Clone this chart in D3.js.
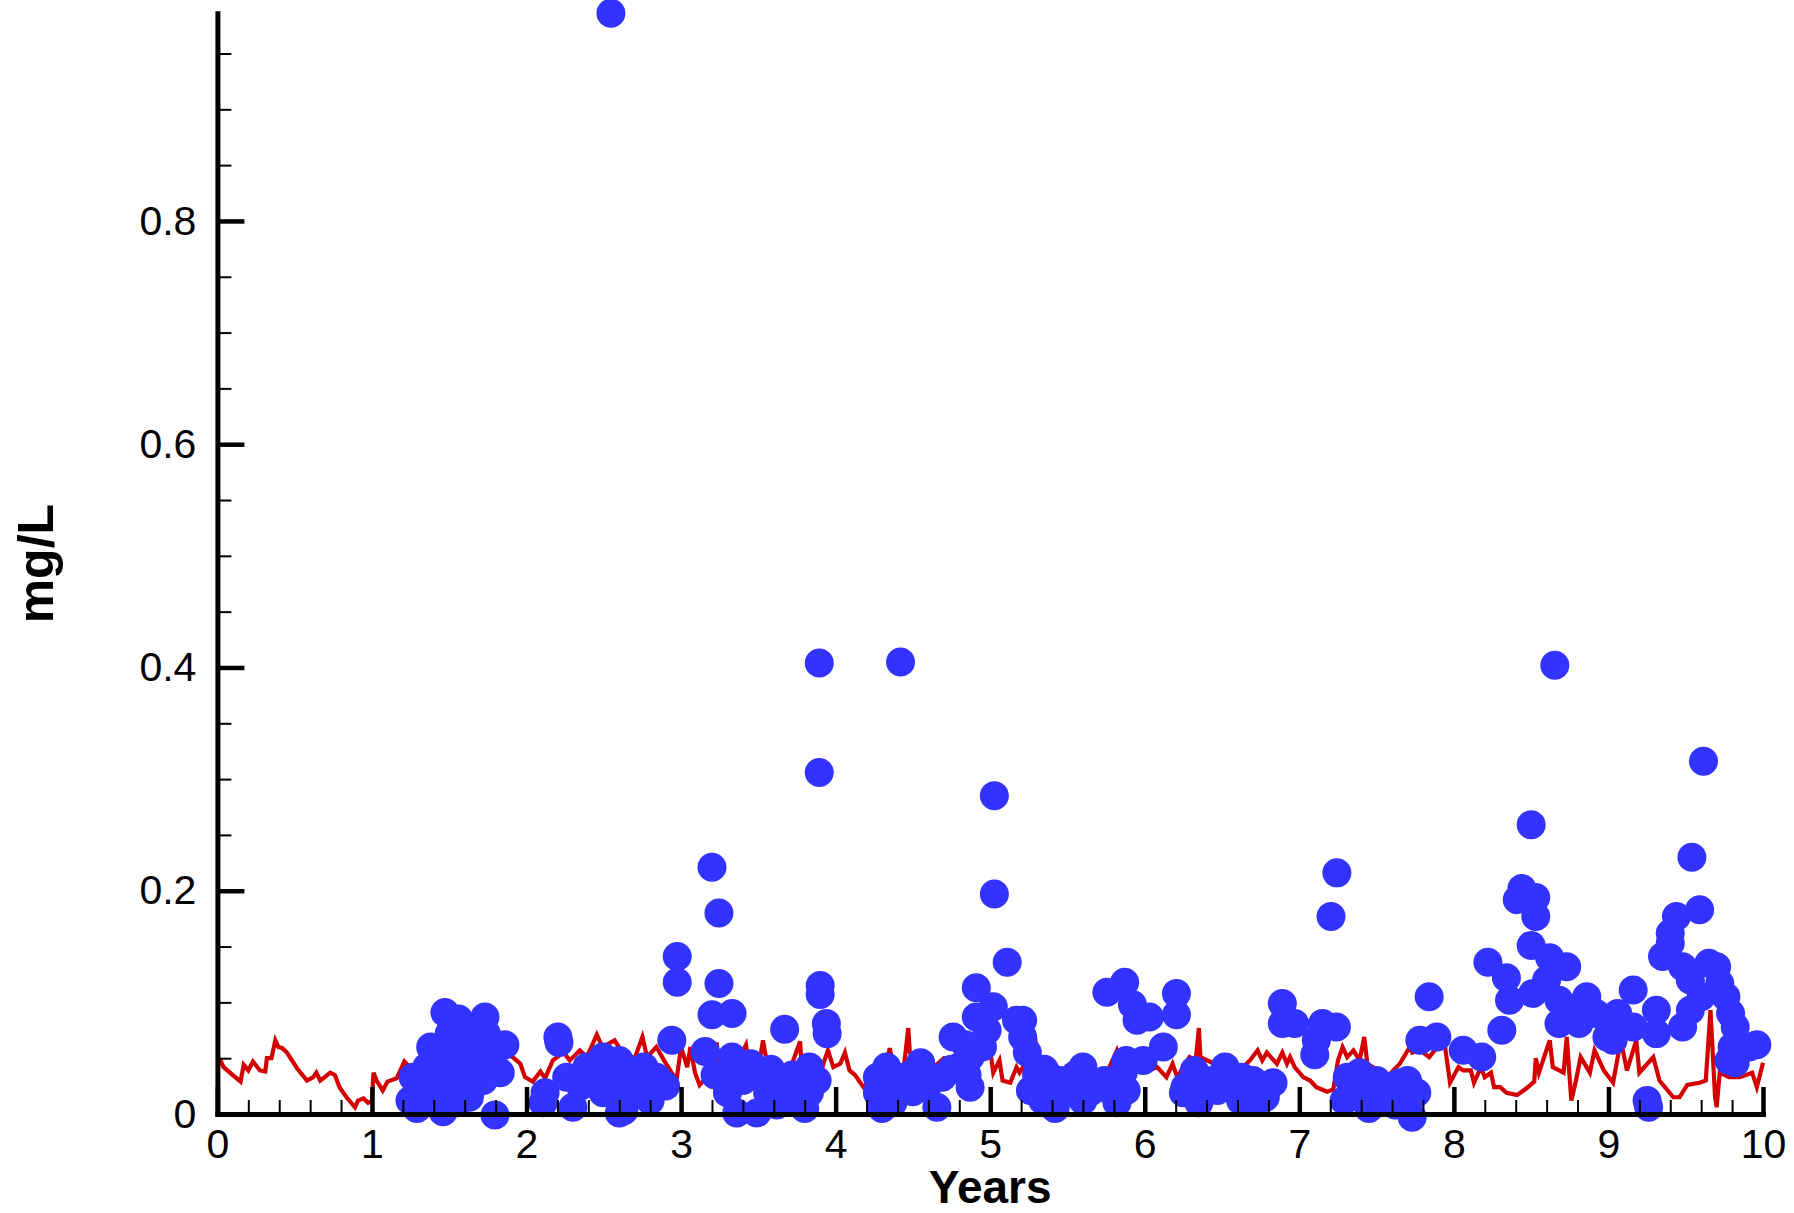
<!DOCTYPE html>
<html>
<head>
<meta charset="utf-8">
<script src="https://cdn.jsdelivr.net/npm/d3@7"></script>
<style>
  html, body { margin: 0; padding: 0; background: #fff; }
  svg { display: block; }
  text { font-family: "Liberation Sans", Arial, Helvetica, sans-serif; fill: #000; }
</style>
</head>
<body>
<svg id="chart" width="1794" height="1213"></svg>
<script>
// ---------------- DATA ----------------
const xMajorTicks = [0, 1, 2, 3, 4, 5, 6, 7, 8, 9, 10];
const yMajorTicks = [0, 0.2, 0.4, 0.6, 0.8];
const yTickLabels = ["0", "0.2", "0.4", "0.6", "0.8"];
const xTickLabels = ["0", "1", "2", "3", "4", "5", "6", "7", "8", "9", "10"];
const xTitle = "Years";
const yTitle = "mg/L";

// simulated concentration (red line)
const simYears = [0.00,0.02,0.04,0.09,0.15,0.17,0.20,0.23,0.275,0.31,0.32,0.35,0.375,0.395,0.42,0.45,0.515,0.58,0.62,0.64,0.665,0.695,0.73,0.76,0.79,0.835,0.89,0.91,0.945,0.975,1.00,1.01,1.03,1.07,1.10,1.16,1.21,1.245,1.29,1.36,1.39,1.43,1.50,1.56,1.62,1.70,1.78,1.85,1.91,1.96,1.99,2.04,2.09,2.12,2.17,2.24,2.28,2.345,2.39,2.455,2.49,2.57,2.62,2.70,2.75,2.78,2.84,2.89,2.97,3.00,3.04,3.06,3.09,3.12,3.14,3.20,3.23,3.25,3.30,3.36,3.42,3.445,3.50,3.53,3.56,3.65,3.70,3.77,3.78,3.84,3.90,3.92,3.95,3.985,4.03,4.06,4.09,4.125,4.18,4.25,4.32,4.35,4.37,4.44,4.47,4.48,4.55,4.62,4.70,4.78,4.85,4.92,5.00,5.02,5.06,5.08,5.13,5.17,5.19,5.25,5.29,5.31,5.40,5.48,5.55,5.65,5.755,5.82,5.85,5.92,6.03,6.08,6.14,6.18,6.21,6.29,6.33,6.35,6.36,6.45,6.55,6.62,6.68,6.73,6.76,6.79,6.855,6.89,6.92,6.94,6.97,7.025,7.07,7.11,7.18,7.22,7.25,7.28,7.31,7.35,7.39,7.42,7.44,7.50,7.58,7.65,7.715,7.73,7.78,7.84,7.91,7.93,7.975,8.03,8.06,8.11,8.13,8.175,8.20,8.24,8.26,8.30,8.34,8.41,8.47,8.52,8.53,8.55,8.62,8.64,8.71,8.73,8.76,8.79,8.82,8.88,8.91,8.97,9.03,9.08,9.12,9.18,9.20,9.29,9.33,9.42,9.46,9.51,9.59,9.63,9.66,9.69,9.70,9.72,9.78,9.85,9.93,9.96,10.0];
const simValues = [0.050,0.048,0.042,0.036,0.029,0.044,0.039,0.047,0.039,0.038,0.050,0.050,0.066,0.060,0.059,0.055,0.041,0.030,0.033,0.037,0.030,0.033,0.037,0.035,0.024,0.015,0.006,0.012,0.014,0.010,0.012,0.037,0.030,0.021,0.029,0.032,0.047,0.042,0.039,0.065,0.060,0.050,0.055,0.045,0.058,0.050,0.062,0.055,0.051,0.045,0.033,0.029,0.038,0.032,0.048,0.055,0.048,0.057,0.051,0.071,0.060,0.066,0.055,0.050,0.069,0.051,0.060,0.048,0.030,0.060,0.042,0.060,0.037,0.026,0.029,0.030,0.064,0.042,0.035,0.045,0.062,0.037,0.040,0.066,0.042,0.040,0.038,0.065,0.042,0.036,0.033,0.045,0.057,0.042,0.045,0.055,0.039,0.035,0.024,0.030,0.040,0.059,0.045,0.040,0.077,0.055,0.045,0.040,0.050,0.045,0.055,0.045,0.057,0.037,0.048,0.030,0.028,0.042,0.037,0.050,0.069,0.045,0.035,0.040,0.030,0.035,0.037,0.057,0.045,0.040,0.039,0.042,0.033,0.045,0.033,0.051,0.048,0.077,0.051,0.045,0.048,0.040,0.048,0.057,0.048,0.055,0.045,0.055,0.045,0.051,0.042,0.033,0.030,0.024,0.020,0.022,0.048,0.060,0.051,0.057,0.048,0.069,0.045,0.040,0.035,0.045,0.060,0.055,0.057,0.051,0.063,0.073,0.028,0.042,0.039,0.039,0.028,0.042,0.033,0.037,0.024,0.024,0.019,0.017,0.023,0.029,0.050,0.037,0.066,0.042,0.037,0.069,0.012,0.030,0.051,0.037,0.057,0.039,0.028,0.066,0.039,0.066,0.037,0.051,0.030,0.015,0.015,0.026,0.028,0.030,0.093,0.015,0.006,0.037,0.033,0.033,0.037,0.024,0.046];

// observed concentrations (blue dots)
const obsYears = [2.546,3.894,3.894,4.420,8.653,9.615,5.027,5.027,5.11,3.20,3.245,2.975,2.975,3.245,7.243,7.205,8.50,9.54,9.59,
  1.472,1.731,1.86,1.796,1.266,1.246,1.29,1.46,1.83,1.50,1.61,1.74,1.68,1.44,1.55,1.65,1.355,1.46,1.63,1.33,1.52,1.58,1.40,
  1.38,1.56,1.70,1.78,1.52,1.60,1.72,1.36,1.55,
  2.203,2.21,2.495,2.107,2.12,2.26,2.30,2.39,2.585,2.60,2.495,2.35,2.45,2.55,2.60,2.67,2.84,2.63,2.80,2.76,2.70,2.90,2.94,2.53,
  3.20,3.33,3.155,3.67,3.90,3.90,3.94,3.945,3.33,3.27,3.36,3.49,3.56,3.75,3.83,3.66,3.30,3.49,3.83,3.40,3.60,3.70,3.22,3.88,
  3.45,3.58,3.72,3.62,3.80,
  4.27,4.33,4.27,4.37,4.55,4.655,4.76,4.87,4.87,4.59,4.69,4.44,4.80,4.50,4.62,4.40,4.91,4.91,5.02,5.17,4.98,4.95,4.84,
  4.30,4.48,4.75,4.85,
  5.21,5.21,5.24,5.26,5.39,5.60,5.69,5.50,5.34,5.795,5.60,5.88,5.45,5.755,5.87,5.92,6.205,6.205,6.03,5.95,6.12,5.99,5.88,5.86,5.30,5.74,
  5.42,5.55,5.65,5.35,5.82,
  6.26,6.32,6.52,6.63,6.83,6.47,6.73,6.62,6.25,6.40,
  6.35,6.55,6.70,6.78,
  6.89,6.89,6.97,7.15,7.24,7.10,7.11,
  7.31,7.39,7.29,7.50,7.715,7.73,7.78,7.84,7.60,7.41,7.55,7.65,7.76,7.35,
  7.45,7.62,7.70,7.52,
  8.44,8.53,8.41,8.53,9.44,9.40,9.40,9.35,8.50,8.22,8.62,8.73,8.34,8.36,8.51,8.60,8.68,8.86,8.92,8.68,8.81,8.99,9.03,9.16,9.16,9.31,9.31,9.65,9.70,9.48,9.48,9.72,9.76,9.79,9.82,9.91,9.78,9.82,9.80,9.53,9.53,7.89,8.06,8.18,8.31,9.25,9.26,9.06,8.75,9.60,9.96];
const obsValues = [0.986,0.404,0.306,0.405,0.402,0.316,0.285,0.197,0.136,0.221,0.180,0.141,0.118,0.117,0.216,0.177,0.259,0.230,0.183,
  0.091,0.087,0.062,-0.001,0.033,0.012,0.005,0.002,0.037,0.072,0.078,0.072,0.048,0.048,0.033,0.024,0.042,0.024,0.015,0.019,0.060,0.055,0.035,
  0.060,0.085,0.060,0.050,0.040,0.035,0.030,0.010,0.010,
  0.069,0.064,0.051,0.010,0.019,0.033,0.006,0.042,0.042,0.001,0.019,0.025,0.030,0.025,0.048,0.033,0.033,0.003,0.012,0.042,0.020,0.025,0.066,0.045,
  0.089,0.090,0.056,0.076,0.115,0.107,0.081,0.072,0.051,0.033,0.001,0.037,0.019,0.033,0.019,0.024,0.019,0.001,0.042,0.030,0.030,0.012,0.035,0.030,
  0.045,0.040,0.035,0.008,0.005,
  0.033,0.042,0.019,0.010,0.046,0.006,0.069,0.051,0.024,0.024,0.033,0.033,0.042,0.020,0.030,0.025,0.113,0.087,0.096,0.084,0.075,0.060,0.062,
  0.005,0.035,0.040,0.035,
  0.084,0.069,0.055,0.021,0.033,0.042,0.024,0.019,0.012,0.019,0.012,0.021,0.030,0.109,0.118,0.098,0.108,0.089,0.087,0.084,0.060,0.048,0.048,0.037,0.035,0.030,
  0.005,0.035,0.020,0.040,0.010,
  0.024,0.039,0.042,0.033,0.028,0.021,0.012,0.012,0.019,0.030,
  0.010,0.025,0.030,0.015,
  0.099,0.081,0.081,0.081,0.078,0.053,0.066,
  0.033,0.037,0.012,0.030,0.019,-0.003,0.066,0.105,0.019,0.015,0.025,0.028,0.019,0.020,
  0.005,0.008,0.030,0.015,
  0.202,0.194,0.192,0.177,0.177,0.162,0.153,0.141,0.151,0.136,0.140,0.132,0.122,0.102,0.108,0.120,0.102,0.105,0.090,0.081,0.081,0.069,0.066,0.111,0.078,0.093,0.072,0.135,0.132,0.132,0.078,0.117,0.105,0.090,0.078,0.060,0.048,0.046,0.060,0.120,0.093,0.069,0.057,0.051,0.075,0.012,0.006,0.090,0.095,0.105,0.062];

// ---------------- CHART ----------------
const svg = d3.select("#chart");
svg.append("rect").attr("width", 1794).attr("height", 1213).attr("fill", "#fff");

const x = d3.scaleLinear().domain([0, 10]).range([217.4, 1763]);
const y = d3.scaleLinear().domain([0, 0.986]).range([1114, 13.3]);

const sim = simYears.map((t, i) => ({ t, v: simValues[i] }));
const obs = obsYears.map((t, i) => ({ t, v: obsValues[i] }));

// red line
svg.append("path")
  .datum(sim)
  .attr("fill", "none")
  .attr("stroke", "#d40000")
  .attr("stroke-width", 4.2)
  .attr("stroke-linejoin", "miter")
  .attr("d", d3.line().x(d => x(d.t)).y(d => y(d.v)));

// blue dots
svg.append("g").selectAll("circle")
  .data(obs)
  .join("circle")
  .attr("cx", d => x(d.t))
  .attr("cy", d => y(d.v))
  .attr("r", 14.5)
  .attr("fill", "#3333ff");

// minor ticks
const xMinor = d3.range(0, 10.001, 0.2).filter(v => Math.abs(v - Math.round(v)) > 1e-6);
const yMinor = d3.range(0, 0.9501, 0.05).filter(v => Math.abs(v * 5 - Math.round(v * 5)) > 1e-6);

const gxMinor = svg.append("g").attr("transform", "translate(0,1114)")
  .call(d3.axisBottom(x).tickValues(xMinor).tickSize(-14).tickSizeOuter(0).tickFormat(""));
gxMinor.select(".domain").remove();
gxMinor.selectAll("line").attr("stroke", "#000").attr("stroke-width", 2);

const gyMinor = svg.append("g").attr("transform", "translate(217.4,0)")
  .call(d3.axisLeft(y).tickValues(yMinor).tickSize(-14).tickSizeOuter(0).tickFormat(""));
gyMinor.select(".domain").remove();
gyMinor.selectAll("line").attr("stroke", "#000").attr("stroke-width", 2);

// major axes
const gx = svg.append("g").attr("transform", "translate(0,1114)")
  .call(d3.axisBottom(x).tickValues(xMajorTicks).tickSize(-27).tickSizeOuter(0).tickPadding(15)
    .tickFormat((d, i) => xTickLabels[i]));
gx.selectAll("line").attr("stroke", "#000").attr("stroke-width", 4.5);
gx.select(".domain").attr("stroke", "#000").attr("stroke-width", 5).attr("stroke-linecap", "square");
gx.selectAll("text").attr("font-size", 41).attr("font-family", "'Liberation Sans', Arial, sans-serif").attr("fill", "#000");

const gy = svg.append("g").attr("transform", "translate(217.4,0)")
  .call(d3.axisLeft(y).tickValues(yMajorTicks).tickSize(-27).tickSizeOuter(0).tickPadding(21)
    .tickFormat((d, i) => yTickLabels[i]));
gy.selectAll("line").attr("stroke", "#000").attr("stroke-width", 4.5);
gy.select(".domain").attr("stroke", "#000").attr("stroke-width", 5).attr("stroke-linecap", "square");
gy.selectAll("text").attr("font-size", 41).attr("font-family", "'Liberation Sans', Arial, sans-serif").attr("fill", "#000");

// titles
svg.append("text")
  .attr("x", (x.range()[0] + x.range()[1]) / 2)
  .attr("y", 1203)
  .attr("text-anchor", "middle")
  .attr("font-size", 46)
  .attr("font-weight", "bold")
  .text(xTitle);

svg.append("text")
  .attr("transform", `translate(53,${(y.range()[0] + y.range()[1]) / 2}) rotate(-90)`)
  .attr("text-anchor", "middle")
  .attr("font-size", 50)
  .attr("font-weight", "bold")
  .text(yTitle);
</script>
</body>
</html>
